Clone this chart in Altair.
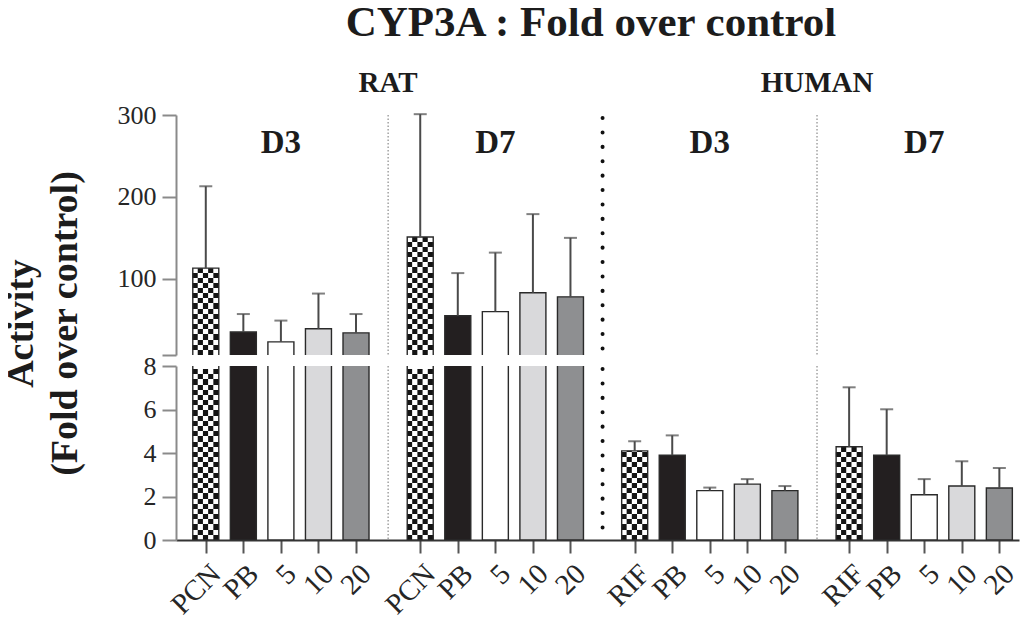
import json
import altair as alt
import pandas as pd

# ---------------- data ----------------
panel_species = ["RAT", "RAT", "HUMAN", "HUMAN"]
panel_day = ["D3", "D7", "D3", "D7"]
treatments = [
    ["PCN", "PB", "5", "10", "20"],
    ["PCN", "PB", "5", "10", "20"],
    ["RIF", "PB", "5", "10", "20"],
    ["RIF", "PB", "5", "10", "20"],
]
means = [
    [113, 35, 23, 39, 34],
    [151, 55, 60, 83, 78],
    [4.10, 3.90, 2.27, 2.57, 2.27],
    [4.29, 3.90, 2.08, 2.48, 2.39],
]
sds = [
    [100, 22, 26, 43, 23],
    [150, 52, 72, 96, 72],
    [0.44, 0.91, 0.14, 0.23, 0.21],
    [2.73, 2.11, 0.72, 1.14, 0.92],
]
kinds = ["inducer", "PB", "low", "mid", "high"]
kind_colors = ["rgba(0,0,0,0)", "#231f20", "#ffffff", "#d9d9db", "#8e8f91"]

# ---------------- layout parameters ----------------
SLOT = 100          # distance between neighbouring bars (x units)
GROUP_STEP = 571    # distance between groups (x units)
X_DOMAIN = [-66, 2152]
W = 843
H_TOP = 240
H_BOT = 174
TOP_DOMAIN = [7, 300]
BOT_DOMAIN = [0, 8]
BAR_W = 26
FONT = "Liberation Serif"
INK = "#1c1c1c"

rows = []
for g in range(4):
    for i in range(5):
        rows.append({
            "pos": g * GROUP_STEP + i * SLOT,
            "label": treatments[g][i],
            "mean": means[g][i],
            "sd": sds[g][i],
            "kind": kinds[i],
            "checker": i == 0,
        })
df = pd.DataFrame(rows)
df["err"] = df["mean"] + df["sd"]

sep_df = pd.DataFrame({
    "pos": [g * GROUP_STEP - (GROUP_STEP - 4 * SLOT) / 2 for g in (1, 2, 3)],
    "style": ["thin", "thick", "thin"],
})
day_df = pd.DataFrame({
    "pos": [g * GROUP_STEP + 2 * SLOT for g in range(4)],
    "day": panel_day,
})
species_df = pd.DataFrame({
    "pos": [1 * GROUP_STEP - (GROUP_STEP - 4 * SLOT) / 2,
            3 * GROUP_STEP - (GROUP_STEP - 4 * SLOT) / 2],
    "species": ["RAT", "HUMAN"],
})

label_expr = "{}[indexof({}, datum.value)]".format(
    json.dumps(list(df["label"])), json.dumps([int(v) for v in df["pos"]]))


def checker_gradient(phase, n):
    stops = []
    for k in range(n):
        c = "#141414" if (k + phase) % 2 == 0 else "#ffffff"
        stops.append(alt.GradientStop(color=c, offset=k / n))
        stops.append(alt.GradientStop(color=c, offset=(k + 1) / n))
    return alt.LinearGradient(gradient="linear", stops=stops, x1=0, x2=0, y1=0, y2=1)


def panel(is_top):
    H = H_TOP if is_top else H_BOT
    dom = TOP_DOMAIN if is_top else BOT_DOMAIN
    if is_top:
        x_axis = None
        y_axis = alt.Axis(
            values=[7, 100, 200, 300],
            labelExpr="datum.value < 50 ? '' : datum.label",
            title=["Activity", "(Fold over control)"],
            titleFont=FONT, titleFontSize=38, titleFontWeight="bold",
            titleColor=INK, titleLineHeight=44, titleX=-136, titleY=208,
            titleAlign="center", titleBaseline="bottom", titleAngle=270,
        )
    else:
        x_axis = alt.Axis(
            values=[int(v) for v in df["pos"]], labelExpr=label_expr,
            labelAngle=-45, labelAlign="right", labelBaseline="top",
            labelFont=FONT, labelFontSize=29, labelColor="#262626",
            labelOverlap=False, labelPadding=6, tickSize=13, tickWidth=2,
            tickColor="#555555", domainColor="#333333", domainWidth=2,
            grid=False, title=None,
        )
        y_axis = alt.Axis(values=[0, 2, 4, 6, 8], title=None)

    def Y(field):
        return alt.Y(field, type="quantitative",
                     scale=alt.Scale(domain=dom, nice=False, zero=False),
                     axis=y_axis)

    X = alt.X("pos:Q", scale=alt.Scale(domain=X_DOMAIN, nice=False, zero=False),
              axis=x_axis)

    base = alt.Chart(df)
    if is_top:
        base = base.transform_filter(f"datum.mean > {dom[0]}")

    n_rows = round(H / 5.2)
    layers = []
    # checker pattern for the inducer bars
    for c in range(5):
        layers.append(
            base.transform_filter("datum.checker")
            .mark_bar(width=5.7, xOffset=(c - 2) * 5.2,
                      fill=checker_gradient(c % 2, n_rows), clip=True)
            .encode(x=X, y=alt.value(3), y2=alt.value(H))
        )
    # white cover above inducer bars (clipped at the panel top)
    layers.append(
        base.transform_filter("datum.checker")
        .mark_bar(width=30, fill="white", clip=True)
        .encode(x=X, y=Y("mean"), y2=alt.datum(dom[1] * 10))
    )
    # bars
    layers.append(
        base.mark_bar(width=BAR_W, stroke="#2a2a2a", strokeWidth=1.4, clip=True)
        .encode(
            x=X, y=Y("mean"), y2=alt.datum(0),
            fill=alt.Fill("kind:N", scale=alt.Scale(domain=kinds, range=kind_colors),
                          legend=None),
        )
    )
    # error bars
    eb = base if is_top else base.transform_filter(f"datum.err <= {dom[1]}")
    layers.append(
        eb.mark_rule(color="#4a4a4a", strokeWidth=2)
        .encode(x=X, y=Y("mean"), y2="err:Q")
    )
    layers.append(
        eb.mark_tick(orient="horizontal", size=13, thickness=2, color="#4a4a4a")
        .encode(x=X, y=Y("err"))
    )
    # separators
    sep = alt.Chart(sep_df)
    layers.append(
        sep.transform_filter("datum.style == 'thin'")
        .mark_rule(strokeDash=[1.5, 2], color="#8a8a8a", strokeWidth=1.2)
        .encode(x=X, y=alt.value(0), y2=alt.value(H))
    )
    layers.append(
        sep.transform_filter("datum.style == 'thick'")
        .mark_rule(strokeDash=[0.1, 14.3], strokeCap="round", color="#111111",
                   strokeWidth=4)
        .encode(x=X, y=alt.value(3), y2=alt.value(H))
    )
    if is_top:
        layers.append(
            alt.Chart(day_df).mark_text(font=FONT, fontWeight="bold", fontSize=33,
                                        baseline="alphabetic", color=INK)
            .encode(x=X, y=alt.value(38), text="day:N")
        )
        layers.append(
            alt.Chart(species_df).mark_text(font=FONT, fontWeight="bold", fontSize=29,
                                            baseline="alphabetic", color=INK)
            .encode(x=X, y=alt.value(-23), text="species:N")
        )
    return alt.layer(*layers).properties(width=W, height=H)


chart = (
    alt.vconcat(panel(True), panel(False), spacing=11, bounds="flush")
    .properties(
        title=alt.TitleParams(
            "CYP3A : Fold over control", font=FONT, fontSize=43, fontWeight="bold",
            color=INK, anchor="middle", dx=80, offset=24,
        ),
        padding={"left": -6, "top": -6, "right": 0, "bottom": -2},
    )
    .configure_view(stroke=None)
    .configure_axis(
        grid=False, labelFont=FONT, labelFontSize=26, labelColor="#262626",
        domainColor="#8a8a8a", domainWidth=2, tickColor="#8a8a8a", tickWidth=2,
        tickSize=14, labelPadding=6,
    )
    .configure_axisX(domainColor="#333333", tickColor="#555555", tickSize=13)
)

chart.save("out.html", embed_options={"renderer": "svg", "actions": False})
